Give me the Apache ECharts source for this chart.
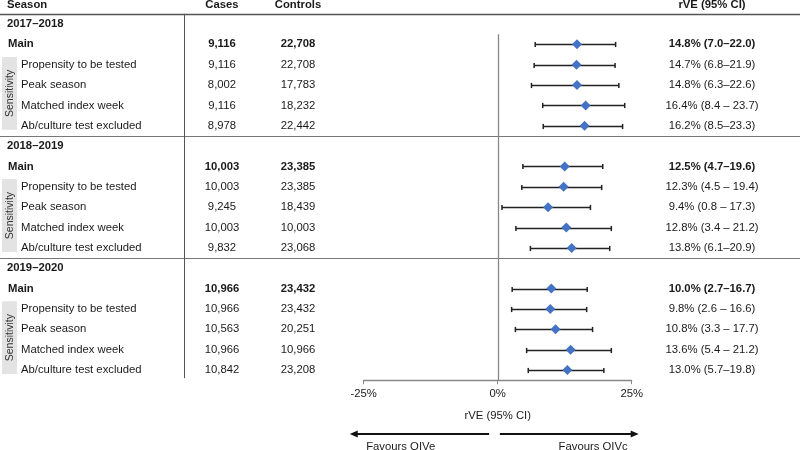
<!DOCTYPE html>
<html><head><meta charset="utf-8">
<script src="https://cdn.jsdelivr.net/npm/echarts@6/dist/echarts.min.js"></script>
<style>html,body{margin:0;padding:0;background:#fff}#c{width:800px;height:450px}</style>
</head><body><div id="c"></div>
<script>
// ---------- data ----------
const seasons = ['2017–2018', '2018–2019', '2019–2020'];
const analyses = ['Main', 'Propensity to be tested', 'Peak season', 'Matched index week', 'Ab/culture test excluded'];
const cases = [
  [9116, 9116, 8002, 9116, 8978],
  [10003, 10003, 9245, 10003, 9832],
  [10966, 10966, 10563, 10966, 10842]
];
const controls = [
  [22708, 22708, 17783, 18232, 22442],
  [23385, 23385, 18439, 10003, 23068],
  [23432, 23432, 20251, 10966, 23208]
];
const rve = [
  [14.8, 14.7, 14.8, 16.4, 16.2],
  [12.5, 12.3, 9.4, 12.8, 13.8],
  [10.0, 9.8, 10.8, 13.6, 13.0]
];
const lower = [
  [7.0, 6.8, 6.3, 8.4, 8.5],
  [4.7, 4.5, 0.8, 3.4, 6.1],
  [2.7, 2.6, 3.3, 5.4, 5.7]
];
const upper = [
  [22.0, 21.9, 22.6, 23.7, 23.3],
  [19.6, 19.4, 17.3, 21.2, 20.9],
  [16.7, 16.6, 17.7, 21.2, 19.8]
];
const rveLabels = [
  ['14.8% (7.0–22.0)', '14.7% (6.8–21.9)', '14.8% (6.3–22.6)', '16.4% (8.4 – 23.7)', '16.2% (8.5–23.3)'],
  ['12.5% (4.7–19.6)', '12.3% (4.5 – 19.4)', '9.4% (0.8 – 17.3)', '12.8% (3.4 – 21.2)', '13.8% (6.1–20.9)'],
  ['10.0% (2.7–16.7)', '9.8% (2.6 – 16.6)', '10.8% (3.3 – 17.7)', '13.6% (5.4 – 21.2)', '13.0% (5.7–19.8)']
];
const xTicks = [-25, 0, 25];
const headers = ['Season', 'Cases', 'Controls', 'rVE (95% CI)'];
const axisTitle = 'rVE (95% CI)';
const favours = ['Favours QIVe', 'Favours QIVc'];

// ---------- build ----------
const FONT = '"Liberation Sans", Arial, Helvetica, sans-serif';
const FS = 11.3;
const TXT = '#1a1a1a';
const fmt = n => n.toLocaleString('en-US');
const ROWS_PER = analyses.length + 1;
const nRows = seasons.length * ROWS_PER;

const tableRows = [{ kind: 'header', row: -0.95 }];
const points = [], bars = [];
seasons.forEach((s, si) => {
  tableRows.push({ kind: 'title', row: si * ROWS_PER, text: s });
  analyses.forEach((a, ai) => {
    const r = si * ROWS_PER + 1 + ai;
    tableRows.push({ kind: ai === 0 ? 'main' : 'sens', row: r, text: a,
      cases: fmt(cases[si][ai]), controls: fmt(controls[si][ai]), label: rveLabels[si][ai] });
    points.push([rve[si][ai], r]);
    bars.push([lower[si][ai], upper[si][ai], r]);
  });
});

const COL = { season: 7, main: 8, sens: 21, cases: 222, controls: 298, rve: 712 };

function textEl(x, y, text, align, bold, size) {
  return { type: 'text', x: x, y: y, silent: true,
    style: { text: text, align: align, verticalAlign: 'middle',
      font: (bold ? 'bold ' : '') + (size || FS) + 'px ' + FONT, fill: TXT } };
}

function renderTable(params, api) {
  const row = tableRows[params.dataIndex];
  const y = api.coord([0, row.row])[1];
  const ch = [];
  if (row.kind === 'header') {
    ch.push(textEl(COL.season, y, headers[0], 'left', true));
    ch.push(textEl(COL.cases, y, headers[1], 'center', true));
    ch.push(textEl(COL.controls, y, headers[2], 'center', true));
    ch.push(textEl(COL.rve, y, headers[3], 'center', true));
  } else if (row.kind === 'title') {
    ch.push(textEl(COL.season, y, row.text, 'left', true));
  } else {
    const b = row.kind === 'main';
    ch.push(textEl(b ? COL.main : COL.sens, y, row.text, 'left', b));
    ch.push(textEl(COL.cases, y, row.cases, 'center', b));
    ch.push(textEl(COL.controls, y, row.controls, 'center', b));
    ch.push(textEl(COL.rve, y, row.label, 'center', b));
  }
  return { type: 'group', children: ch };
}

function renderDecor(params, api) {
  const ch = [];
  const Y = r => api.coord([0, r])[1];
  const X = v => api.coord([v, 0])[0];
  // horizontal rules: header + season separators
  for (let si = 0; si < seasons.length; si++) {
    const y = Math.round(Y(si * ROWS_PER - 0.5)) + 0.5;
    ch.push({ type: 'line', shape: { x1: 0, y1: y, x2: 800, y2: y },
      style: { stroke: si === 0 ? '#555' : '#777', lineWidth: si === 0 ? 1.5 : 1 } });
  }
  // table vertical line
  ch.push({ type: 'line', shape: { x1: 184.5, y1: Y(-0.5), x2: 184.5, y2: Y(nRows - 0.6) },
    style: { stroke: '#555', lineWidth: 1 } });
  // zero line
  const x0 = Math.round(X(0)) + 0.5;
  ch.push({ type: 'line', shape: { x1: x0, y1: Y(0.5), x2: x0, y2: Y(nRows - 0.5) },
    style: { stroke: '#888', lineWidth: 1.3 } });
  // sensitivity boxes
  for (let si = 0; si < seasons.length; si++) {
    const y1 = Y(si * ROWS_PER + 1.62), y2 = Y(si * ROWS_PER + 5.2);
    ch.push({ type: 'rect', shape: { x: 2, y: y1, width: 15, height: y2 - y1 }, style: { fill: '#e3e3e3' } });
    ch.push({ type: 'text', x: 10.5, y: (y1 + y2) / 2, rotation: Math.PI / 2,
      style: { text: 'Sensitivity', align: 'center', verticalAlign: 'middle', font: '10.5px ' + FONT, fill: '#333' } });
  }
  // favours arrows
  const ya = Math.round(Y(nRows + 2.15));
  const yt = Y(nRows + 2.76);
  const lx1 = X(-1.6), lx2 = X(-27.6), rx1 = X(0.4), rx2 = X(26.3);
  ch.push({ type: 'line', shape: { x1: lx1, y1: ya, x2: lx2 + 6, y2: ya }, style: { stroke: '#111', lineWidth: 2 } });
  ch.push({ type: 'polygon', shape: { points: [[lx2, ya], [lx2 + 8, ya - 3.5], [lx2 + 8, ya + 3.5]] }, style: { fill: '#111' } });
  ch.push({ type: 'line', shape: { x1: rx1, y1: ya, x2: rx2 - 6, y2: ya }, style: { stroke: '#111', lineWidth: 2 } });
  ch.push({ type: 'polygon', shape: { points: [[rx2, ya], [rx2 - 8, ya - 3.5], [rx2 - 8, ya + 3.5]] }, style: { fill: '#111' } });
  ch.push(textEl(X(-18.1), yt, favours[0], 'center', false));
  ch.push(textEl(X(17.8), yt, favours[1], 'center', false));
  return { type: 'group', children: ch };
}

function renderBar(params, api) {
  const lo = api.coord([api.value(0), api.value(2)]);
  const hi = api.coord([api.value(1), api.value(2)]);
  const y = Math.round(lo[1]) + 0.5;
  const h = 2.6;
  const st = { stroke: '#222', lineWidth: 1.5 };
  return { type: 'group', children: [
    { type: 'line', shape: { x1: lo[0], y1: y, x2: hi[0], y2: y }, style: st },
    { type: 'line', shape: { x1: lo[0], y1: y - h, x2: lo[0], y2: y + h }, style: st },
    { type: 'line', shape: { x1: hi[0], y1: y - h, x2: hi[0], y2: y + h }, style: st }
  ] };
}

const chart = echarts.init(document.getElementById('c'), null, { renderer: 'canvas' });
chart.setOption({
  animation: false,
  backgroundColor: '#fff',
  textStyle: { fontFamily: FONT },
  grid: { left: 363.7, right: 168.3, top: 13.8, bottom: 69.8 },
  xAxis: {
    type: 'value', min: -25, max: 25, interval: 25,
    axisLine: { show: true, onZero: false, lineStyle: { color: '#888', width: 1.3 } },
    axisTick: { show: true, length: 4, lineStyle: { color: '#888' } },
    axisLabel: { fontSize: FS, color: TXT, margin: 8, formatter: v => v + '%',
      customValues: xTicks },
    splitLine: { show: false },
    name: axisTitle, nameLocation: 'middle', nameGap: 30,
    nameTextStyle: { fontSize: FS, color: TXT }
  },
  yAxis: { type: 'value', min: -0.5, max: nRows - 0.5, inverse: true, show: false },
  series: [
    { type: 'custom', renderItem: renderDecor, data: [[0, 0]], encode: { x: 0, y: 1 }, silent: true, z: 1 },
    { type: 'custom', renderItem: renderTable, data: tableRows.map(r => [0, r.row]), encode: { x: 0, y: 1 }, silent: true, z: 3 },
    { type: 'custom', renderItem: renderBar, data: bars, encode: { x: [0, 1], y: 2 }, silent: true, z: 4 },
    { type: 'scatter', data: points, symbol: 'diamond', symbolSize: 10,
      itemStyle: { color: '#4472C4', opacity: 1 }, z: 5, silent: true }
  ]
});
</script></body></html>
